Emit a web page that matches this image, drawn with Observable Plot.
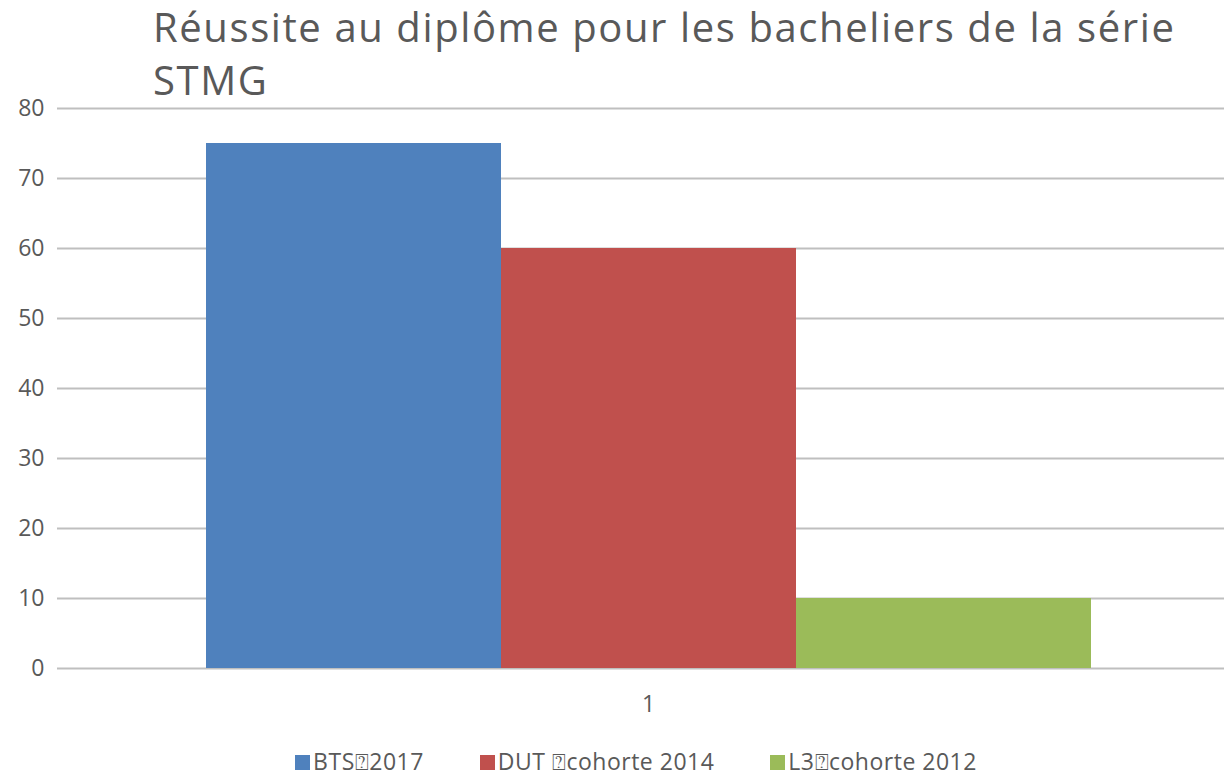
<!DOCTYPE html>
<html><head><meta charset="utf-8">
<script src="https://cdn.jsdelivr.net/npm/d3@7"></script>
<script src="https://cdn.jsdelivr.net/npm/@observablehq/plot@0.6"></script>
<style>
html,body{margin:0;padding:0;background:#fff;overflow:hidden;width:1224px;height:780px;}
#wrap{position:relative;width:1224px;height:780px;overflow:hidden;}
#title{position:absolute;left:153px;top:0px;width:1060px;font-family:"Open Sans",sans-serif;font-size:40px;letter-spacing:1.6px;line-height:53px;color:#595959;z-index:2;}
#chart{position:absolute;left:0;top:0;}
#chart svg{max-width:none !important;}
#legend{position:absolute;left:0;width:1272px;top:749px;line-height:24px;text-align:center;font-family:"Open Sans",sans-serif;font-size:23px;letter-spacing:0.5px;color:#595959;white-space:nowrap;}
.item{display:inline-block;margin:0 28px;}
.sw{display:inline-block;width:15px;height:15px;margin-right:3px;vertical-align:0px;}
</style></head>
<body><div id="wrap"><div id="title"></div><div id="chart"></div><div id="legend"></div></div>
<script>
const titleText = "Réussite au diplôme pour les bacheliers de la série STMG";
const category = "1";
const series = ["BTS\u23702017", "DUT \u2370cohorte 2014", "L3\u2370cohorte 2012"];
const values = [75, 60, 10];
const colors = ["#4f81bd", "#c0504d", "#9bbb59"];
const yTicks = [0, 10, 20, 30, 40, 50, 60, 70, 80];

const data = series.map((s, i) => ({cat: category, series: s, value: values[i]}));

document.getElementById("title").textContent = titleText;

const chart = Plot.plot({
  width: 1239,
  height: 740,
  marginLeft: 57,
  marginRight: 0,
  marginTop: 108,
  marginBottom: 72,
  style: {fontFamily: "Open Sans, sans-serif", fontSize: "23px", color: "#595959", background: "transparent", overflow: "visible", maxWidth: "none"},
  fx: {domain: [category], padding: 0, label: null, axis: "bottom", tickSize: 0, tickPadding: 27},
  x: {domain: series, paddingInner: 0, paddingOuter: 0.5, axis: null},
  y: {domain: [0, 80], ticks: yTicks, label: null, tickSize: 0, tickPadding: 12, axis: null},
  color: {domain: series, range: colors},
  marks: [
    Plot.ruleY(yTicks, {stroke: "#bfbfbf", strokeWidth: 2}),
    Plot.barY(data, {fx: "cat", x: "series", y: "value", fill: "series"}),
    Plot.axisY({ticks: yTicks, tickSize: 0, tickPadding: 13, fill: "#595959", fontSize: 23})
  ]
});
document.getElementById("chart").appendChild(chart);

const legend = document.getElementById("legend");
series.forEach((s, i) => {
  const it = document.createElement("span");
  it.className = "item";
  const sw = document.createElement("span");
  sw.className = "sw";
  sw.style.background = colors[i];
  it.appendChild(sw);
  it.appendChild(document.createTextNode(s));
  legend.appendChild(it);
});
</script></body></html>
